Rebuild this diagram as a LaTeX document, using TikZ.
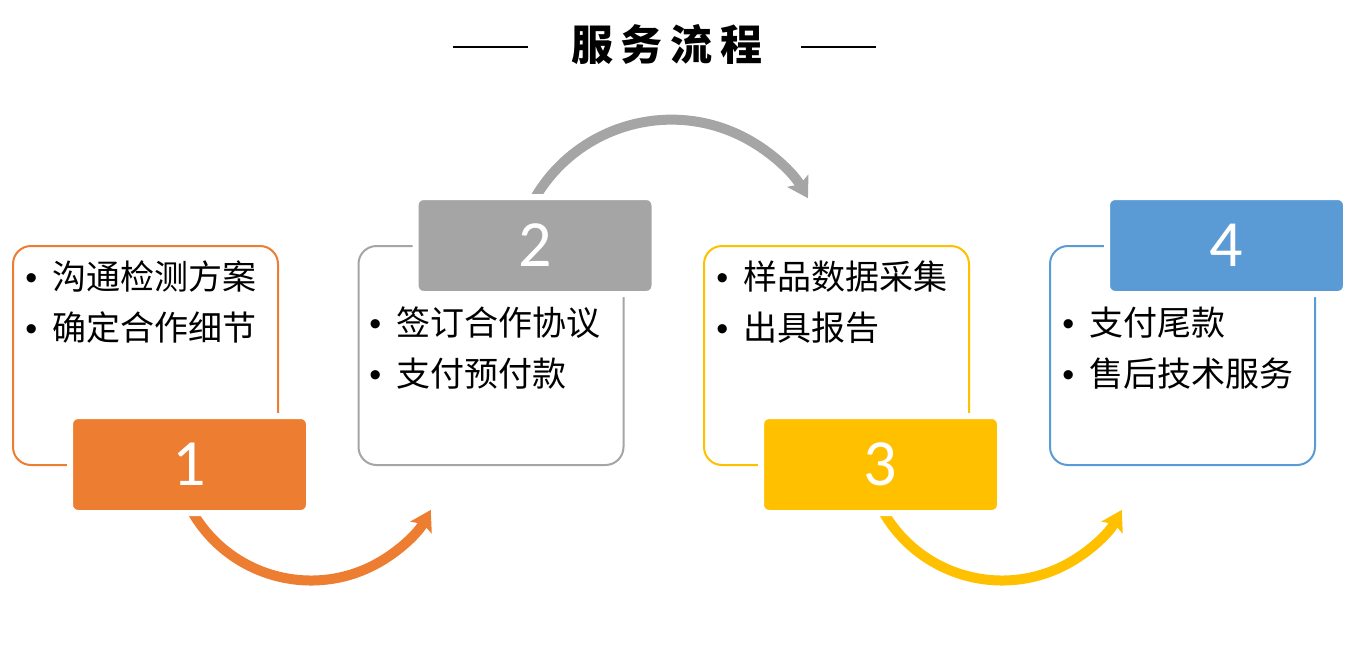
\documentclass[tikz,border=0pt]{standalone}
\usepackage{fontspec}
\setmainfont{Liberation Sans}
\newfontfamily\cjk{Noto Sans CJK SC}
\newfontfamily\numfont{Carlito}
\usetikzlibrary{arrows.meta}
\definecolor{corange}{HTML}{ED7D31}
\definecolor{cgrey}{HTML}{A5A5A5}
\definecolor{cgold}{HTML}{FFC000}
\definecolor{cblue}{HTML}{5B9BD5}
\newcommand\bul{\makebox[13.5pt][l]{\rmfamily\textbullet}}
\begin{document}
\begin{tikzpicture}[x=0.5pt,y=-0.5pt,
  outerbox/.style={draw=#1, line width=1pt, rounded corners=9pt, fill=white,
    minimum width=132.5pt, minimum height=109.5pt, inner sep=0pt},
  numbox/.style={fill=#1, draw=white, line width=3pt, rounded corners=4pt,
    minimum width=119.5pt, minimum height=48.5pt, inner sep=0pt, text=white,
    font=\numfont\fontsize{33}{33}\selectfont},
  arcarrow/.style={draw=#1, line width=5pt,
    -{Stealth[length=10pt,width=12pt,inset=2pt]}},
  txt/.style={font=\cjk\fontsize{17}{25.5}\selectfont, align=left, anchor=west, inner sep=0pt},
  titleline/.style={line width=1pt, draw=black}]
\useasboundingbox (0,0) rectangle (1346,649);

% title
\node[font=\cjk\bfseries\fontsize{21}{21}\selectfont, inner sep=0pt] (title) at (667,45)
  {服\hspace{4pt}务\hspace{4pt}流\hspace{4pt}程};
\coordinate (l1a) at (453,47); \coordinate (l1b) at (528,47);
\coordinate (l2a) at (801,47); \coordinate (l2b) at (876,47);
\draw[titleline] (l1a) -- (l1b);
\draw[titleline] (l2a) -- (l2b);

% outline boxes
\node[outerbox=corange] (b1) at (145.5,355.5) {};
\node[outerbox=cgrey]   (b2) at (491,355.5) {};
\node[outerbox=cgold]   (b3) at (836.5,355.5) {};
\node[outerbox=cblue]   (b4) at (1182.5,355.5) {};

% arrows
\coordinate (a1s) at (190,507.8);
\coordinate (a2s) at (531.9,203.5);
\coordinate (a3s) at (881,507.8);
\draw[arcarrow=corange] (a1s) arc[start angle=152, end angle=29, radius=137];
\draw[arcarrow=cgrey]   (a2s) arc[start angle=208, end angle=329.8, radius=158];
\draw[arcarrow=cgold]   (a3s) arc[start angle=152, end angle=29, radius=137];

% number boxes
\node[numbox=corange] (n1) at (189.5,464.5) {1};
\node[numbox=cgrey]   (n2) at (535,245.5) {2};
\node[numbox=cgold]   (n3) at (880.5,464.5) {3};
\node[numbox=cblue]   (n4) at (1226.5,245.5) {4};

% texts
\node[txt] (t1) at (25,302.5) {\bul 沟通检测方案\\\bul 确定合作细节};
\node[txt] (t2) at (369,348.5) {\bul 签订合作协议\\\bul 支付预付款};
\node[txt] (t3) at (716,302.5) {\bul 样品数据采集\\\bul 出具报告};
\node[txt] (t4) at (1062,348.5) {\bul 支付尾款\\\bul 售后技术服务};
\end{tikzpicture}
\end{document}
